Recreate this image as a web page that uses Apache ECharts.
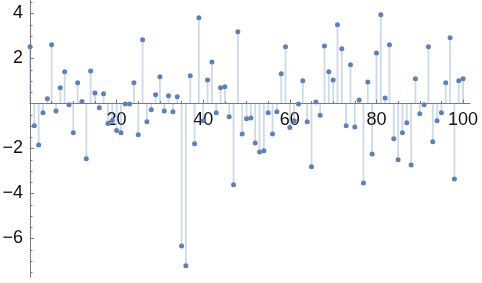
<!DOCTYPE html>
<html><head><meta charset="utf-8">
<script src="https://cdn.jsdelivr.net/npm/echarts@6/dist/echarts.min.js"></script>
<style>html,body{margin:0;padding:0;background:#fff}#c{width:482px;height:283px}</style>
</head><body><div id="c"></div>
<script>
// values at n = 0..100
const values = [
  2.52, -0.99, -1.84, -0.41, 0.21, 2.61, -0.33, 0.70, 1.41, -0.06,
  -1.30, 0.92, 0.09, -2.46, 1.45, 0.47, -0.19, 0.43, -0.89, -0.75,
  -1.20, -1.30, -0.02, -0.02, 0.92, -1.39, 2.83, -0.81, -0.28, 0.39,
  1.19, -0.33, 0.34, -0.37, 0.30, -6.33, -7.21, 1.23, -1.79, 3.81,
  -0.77, 1.05, 1.85, -0.41, 0.70, 0.74, -0.59, -3.61, 3.19, -1.35,
  -0.68, -0.64, -1.75, -2.15, -2.10, -0.41, -1.35, -0.37, 1.32, 2.52,
  -1.07, -0.77, -0.02, 1.01, -0.81, -2.81, 0.07, -0.52, 2.56, 1.41,
  1.05, 3.50, 2.43, -0.99, 1.72, -1.04, 0.16, -3.53, 0.96, -2.24,
  2.25, 3.94, 0.25, 2.61, -1.57, -2.50, -1.30, -0.86, -2.73, 1.10,
  -0.46, -0.06, 2.52, -1.70, -0.77, -0.41, 0.92, 2.92, -3.35, 1.01,
  1.10
];
const xTickLabels = [20, 40, 60, 80, 100];
const yTickLabels = [-6, -4, -2, 2, 4];

const yMin = -7.72, yMax = 4.6, gridH = 277.2;
const points = values.map((v, i) => [i, v]);
const fmt = v => (v < 0 ? '\u2212' + (-v) : '' + v);
const axisColor = '#7a7a7a';
const zeroFromBottom = gridH * (0 - yMin) / (yMax - yMin);

const chart = echarts.init(document.getElementById('c'), null, {renderer: 'canvas'});
chart.setOption({
  animation: false,
  grid: {left: 30, top: 0, width: 440, height: gridH, containLabel: false, outerBoundsMode: 'none'},
  xAxis: {
    type: 'value', min: 0, max: 101.6, splitNumber: 5, position: 'bottom',
    offset: -zeroFromBottom,
    axisLine: {show: true, onZero: false, lineStyle: {color: axisColor, width: 1}},
    axisTick: {show: true, inside: true, length: 4, customValues: xTickLabels, lineStyle: {color: axisColor}},
    minorTick: {show: true, splitNumber: 4, length: 2.5, lineStyle: {color: axisColor}},
    splitLine: {show: false},
    axisLabel: {
      customValues: xTickLabels, margin: 8, color: '#111', fontSize: 18,
      fontFamily: 'Liberation Sans, Arial, sans-serif',
      formatter: v => (xTickLabels.indexOf(v) >= 0 ? fmt(v) : '')
    }
  },
  yAxis: {
    type: 'value', min: yMin, max: yMax, splitNumber: 6,
    axisLine: {show: true, onZero: false, lineStyle: {color: axisColor, width: 1}},
    axisTick: {show: true, inside: true, length: 4, customValues: yTickLabels, lineStyle: {color: axisColor}},
    minorTick: {show: true, splitNumber: 4, length: 2.5, lineStyle: {color: axisColor}},
    splitLine: {show: false},
    axisLabel: {
      customValues: yTickLabels, margin: 7, color: '#111', fontSize: 18,
      fontFamily: 'Liberation Sans, Arial, sans-serif',
      formatter: v => (yTickLabels.indexOf(v) >= 0 ? fmt(v) : '')
    }
  },
  series: [
    {
      type: 'custom', z: 1, silent: true, data: points,
      renderItem: (params, api) => {
        const p0 = api.coord([api.value(0), 0]);
        const p1 = api.coord([api.value(0), api.value(1)]);
        return {type: 'line', shape: {x1: p0[0], y1: p0[1], x2: p1[0], y2: p1[1]},
          style: {stroke: 'rgba(94,129,181,0.3)', lineWidth: 1.8}};
      }
    },
    {
      type: 'scatter', z: 3, silent: true, data: points, symbolSize: 5,
      itemStyle: {color: '#5e81b5', opacity: 1}
    }
  ]
});
</script>
</body></html>
